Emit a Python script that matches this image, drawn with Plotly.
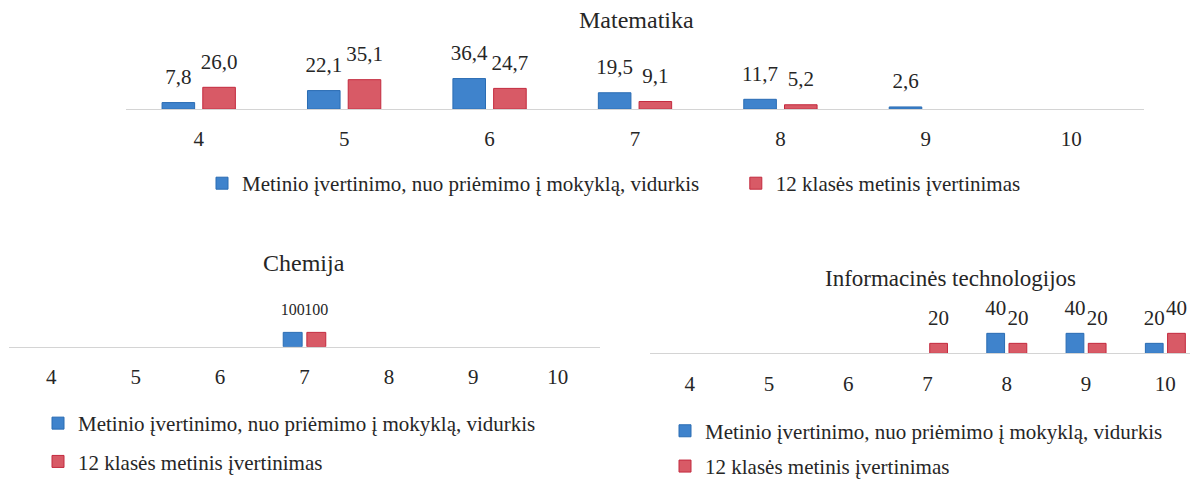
import plotly.graph_objects as go

# ---- data ----
grades = ["4", "5", "6", "7", "8", "9", "10"]
series_names = ["Metinio įvertinimo, nuo priėmimo į mokyklą, vidurkis",
                "12 klasės metinis įvertinimas"]
mat_avg = [7.8, 22.1, 36.4, 19.5, 11.7, 2.6, None]
mat_12 = [26.0, 35.1, 24.7, 9.1, 5.2, None, None]
chem_avg = [None, None, None, 100, None, None, None]
chem_12 = [None, None, None, 100, None, None, None]
it_avg = [None, None, None, None, 40, 40, 20]
it_12 = [None, None, None, 20, 20, 20, 40]
titles = ["Matematika", "Chemija", "Informacinės technologijos"]

W, H = 1198, 479
FONT = "Liberation Serif, Times New Roman, serif"
TXT = "#262626"
BLUE, BLUE_L = "#3f83cc", "#2a6cb3"
RED, RED_L = "#d85a66", "#c32a3e"
NB = "\u00a0"


def px(x):
    return x / W


def py(y):
    return 1 - y / H


def lab(vals, dec):
    out = []
    for v in vals:
        if v is None:
            out.append("")
        elif dec:
            out.append(f"{v:.1f}".replace(".", ","))
        else:
            out.append(f"{v:g}")
    return out


fig = go.Figure()

panels = [
    # avg, 12kl, decimals, xaxis, yaxis, legend, label size
    (mat_avg, mat_12, True, "x", "y", "legend", 21),
    (chem_avg, chem_12, False, "x2", "y2", "legend2", 16),
    (it_avg, it_12, False, "x3", "y3", "legend3", 21),
]
for i, (a, b, dec, xa, ya, lg, ls) in enumerate(panels):
    for j, (vals, fc, lc) in enumerate([(a, BLUE, BLUE_L), (b, RED, RED_L)]):
        name = series_names[j]
        if i == 0 and j == 0:
            name = name + NB * 6  # wider spacing between the two legend entries
        fig.add_trace(go.Bar(
            x=grades, y=vals, name=name,
            marker=dict(color=fc, line=dict(color=lc, width=1)),
            offsetgroup=f"s{j}",
            xaxis=xa, yaxis=ya, legend=lg,
            legendgroup=f"g{i}{j}", hoverinfo="skip",
        ))
    # value labels, grouped like the bars
    for j, vals in enumerate([a, b]):
        fig.add_trace(go.Scatter(
            x=grades, y=vals, mode="markers+text",
            text=lab(vals, dec), textposition="top center",
            textfont=dict(family=FONT, size=ls, color=TXT),
            marker=dict(size=20, opacity=0),
            offsetgroup=f"s{j}", cliponaxis=False, showlegend=False,
            xaxis=xa, yaxis=ya, hoverinfo="skip",
        ))

xcommon = dict(type="category", showline=True, linecolor="#d4d4d4", linewidth=1,
               showgrid=False, zeroline=False, ticks="", fixedrange=True,
               tickfont=dict(family=FONT, size=21, color=TXT),
               ticklabelstandoff=11)
ycommon = dict(visible=False, showgrid=False, zeroline=False, fixedrange=True)

mat_top, mat_bot = 42, 106
ch_top, ch_bot = 299, 355
it_top, it_bot = 304, 362

fig.update_layout(
    width=W, height=H, margin=dict(l=0, r=0, t=0, b=0),
    paper_bgcolor="white", plot_bgcolor="white",
    barmode="group", bargap=0.44, bargroupgap=0.2,
    scattermode="group", scattergap=0.44,
    font=dict(family=FONT, size=21, color=TXT),
    xaxis=dict(domain=[px(118), px(1136)], anchor="y", **xcommon),
    yaxis=dict(domain=[py(mat_bot), py(mat_top)], anchor="x",
               range=[0, (mat_bot - mat_top) / 0.88], **ycommon),
    xaxis2=dict(domain=[px(1), px(592)], anchor="y2", **xcommon),
    yaxis2=dict(domain=[py(ch_bot), py(ch_top)], anchor="x2",
                range=[0, (ch_bot - ch_top) / 0.15], **ycommon),
    xaxis3=dict(domain=[px(642), px(1197)], anchor="y3", **xcommon),
    yaxis3=dict(domain=[py(it_bot), py(it_top)], anchor="x3",
                range=[0, (it_bot - it_top) / 0.525], **ycommon),
    legend=dict(orientation="h", x=px(194), y=py(184), xanchor="left", yanchor="middle",
                font=dict(family=FONT, size=21, color=TXT), bgcolor="rgba(0,0,0,0)",
                traceorder="normal"),
    legend2=dict(orientation="v", x=px(30), y=py(414), xanchor="left", yanchor="top",
                 font=dict(family=FONT, size=21, color=TXT), bgcolor="rgba(0,0,0,0)",
                 traceorder="grouped", tracegroupgap=8),
    legend3=dict(orientation="v", x=px(657), y=py(422), xanchor="left", yanchor="top",
                 font=dict(family=FONT, size=21, color=TXT), bgcolor="rgba(0,0,0,0)",
                 traceorder="grouped", tracegroupgap=5),
    annotations=[
        dict(text=titles[0], x=px(628), y=py(13), xref="paper", yref="paper",
             showarrow=False, xanchor="center", yanchor="middle",
             font=dict(family=FONT, size=24, color=TXT)),
        dict(text=titles[1], x=px(296), y=py(267), xref="paper", yref="paper",
             showarrow=False, xanchor="center", yanchor="middle",
             font=dict(family=FONT, size=24, color=TXT)),
        dict(text=titles[2], x=px(942), y=py(283), xref="paper", yref="paper",
             showarrow=False, xanchor="center", yanchor="middle",
             font=dict(family=FONT, size=23, color=TXT)),
    ],
)

fig.write_html("out.html")
